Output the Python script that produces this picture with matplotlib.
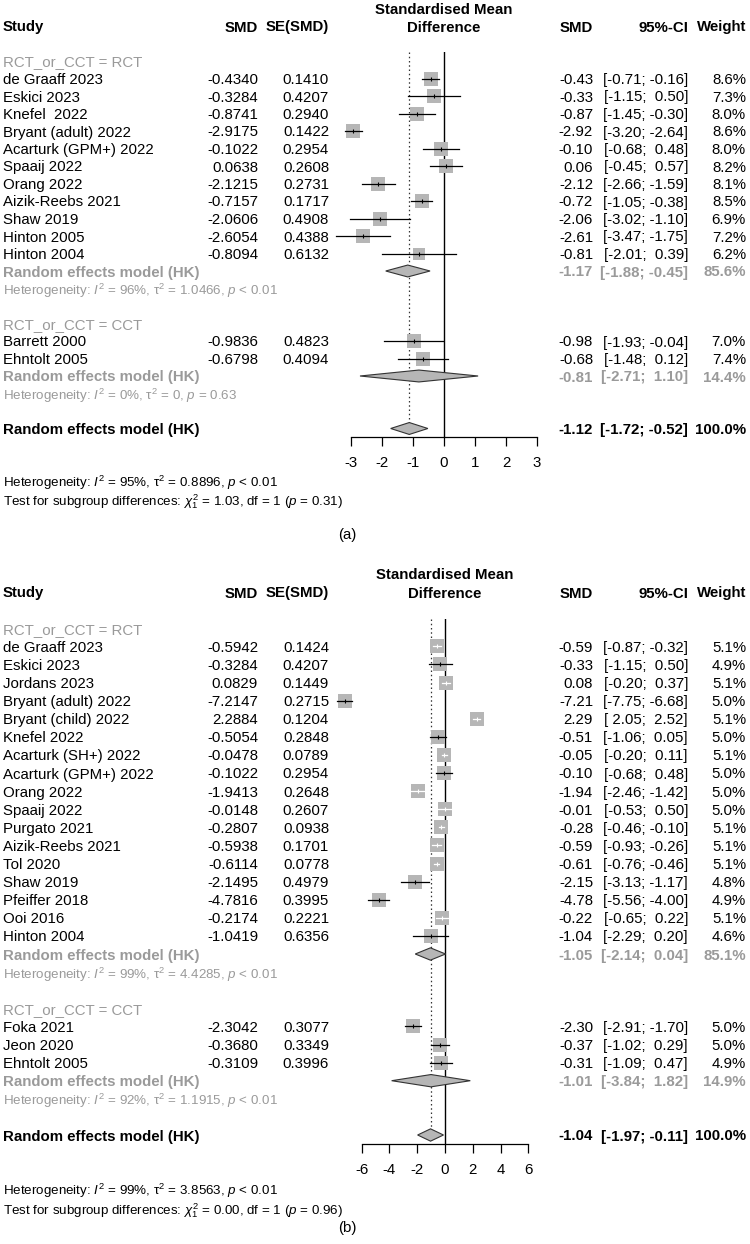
import numpy as np
import matplotlib
matplotlib.use("Agg")
import matplotlib.pyplot as plt
from matplotlib import transforms
from matplotlib.patches import Polygon

plt.rcParams['font.family'] = ['Liberation Sans', 'DejaVu Sans']
plt.rcParams['mathtext.fontset'] = 'custom'
plt.rcParams['mathtext.rm'] = 'Liberation Sans'
plt.rcParams['mathtext.it'] = 'Liberation Sans:italic'
plt.rcParams['mathtext.bf'] = 'Liberation Sans:bold'

# ---------------- panel (a) data ----------------
a_rct_study = ["de Graaff 2023", "Eskici 2023", "Knefel  2022", "Bryant (adult) 2022",
               "Acarturk (GPM+) 2022", "Spaaij 2022", "Orang 2022", "Aizik-Reebs 2021",
               "Shaw 2019", "Hinton 2005", "Hinton 2004"]
a_rct_smd = [-0.4340, -0.3284, -0.8741, -2.9175, -0.1022, 0.0638, -2.1215, -0.7157,
             -2.0606, -2.6054, -0.8094]
a_rct_se = [0.1410, 0.4207, 0.2940, 0.1422, 0.2954, 0.2608, 0.2731, 0.1717,
            0.4908, 0.4388, 0.6132]
a_rct_lo = [-0.71, -1.15, -1.45, -3.20, -0.68, -0.45, -2.66, -1.05, -3.02, -3.47, -2.01]
a_rct_hi = [-0.16, 0.50, -0.30, -2.64, 0.48, 0.57, -1.59, -0.38, -1.10, -1.75, 0.39]
a_rct_w = [8.6, 7.3, 8.0, 8.6, 8.0, 8.2, 8.1, 8.5, 6.9, 7.2, 6.2]
a_rct_re = [-1.17, -1.88, -0.45, 85.6]
a_rct_het = ["96%", "1.0466", "< 0.01"]

a_cct_study = ["Barrett 2000", "Ehntolt 2005"]
a_cct_smd = [-0.9836, -0.6798]
a_cct_se = [0.4823, 0.4094]
a_cct_lo = [-1.93, -1.48]
a_cct_hi = [-0.04, 0.12]
a_cct_w = [7.0, 7.4]
a_cct_re = [-0.81, -2.71, 1.10, 14.4]
a_cct_het = ["0%", "0", "= 0.63"]

a_all_re = [-1.12, -1.72, -0.52, 100.0]
a_all_het = ["95%", "0.8896", "< 0.01"]
a_test = ["1.03", "1", "0.31"]
a_ticks = [-3, -2, -1, 0, 1, 2, 3]

# ---------------- panel (b) data ----------------
b_rct_study = ["de Graaff 2023", "Eskici 2023", "Jordans 2023", "Bryant (adult) 2022",
               "Bryant (child) 2022", "Knefel 2022", "Acarturk (SH+) 2022",
               "Acarturk (GPM+) 2022", "Orang 2022", "Spaaij 2022", "Purgato 2021",
               "Aizik-Reebs 2021", "Tol 2020", "Shaw 2019", "Pfeiffer 2018", "Ooi 2016",
               "Hinton 2004"]
b_rct_smd = [-0.5942, -0.3284, 0.0829, -7.2147, 2.2884, -0.5054, -0.0478, -0.1022,
             -1.9413, -0.0148, -0.2807, -0.5938, -0.6114, -2.1495, -4.7816, -0.2174,
             -1.0419]
b_rct_se = [0.1424, 0.4207, 0.1449, 0.2715, 0.1204, 0.2848, 0.0789, 0.2954, 0.2648,
            0.2607, 0.0938, 0.1701, 0.0778, 0.4979, 0.3995, 0.2221, 0.6356]
b_rct_lo = [-0.87, -1.15, -0.20, -7.75, 2.05, -1.06, -0.20, -0.68, -2.46, -0.53, -0.46,
            -0.93, -0.76, -3.13, -5.56, -0.65, -2.29]
b_rct_hi = [-0.32, 0.50, 0.37, -6.68, 2.52, 0.05, 0.11, 0.48, -1.42, 0.50, -0.10,
            -0.26, -0.46, -1.17, -4.00, 0.22, 0.20]
b_rct_w = [5.1, 4.9, 5.1, 5.0, 5.1, 5.0, 5.1, 5.0, 5.0, 5.0, 5.1, 5.1, 5.1, 4.8, 4.9,
           5.1, 4.6]
b_rct_re = [-1.05, -2.14, 0.04, 85.1]
b_rct_het = ["99%", "4.4285", "< 0.01"]

b_cct_study = ["Foka 2021", "Jeon 2020", "Ehntolt 2005"]
b_cct_smd = [-2.3042, -0.3680, -0.3109]
b_cct_se = [0.3077, 0.3349, 0.3996]
b_cct_lo = [-2.91, -1.02, -1.09]
b_cct_hi = [-1.70, 0.29, 0.47]
b_cct_w = [5.0, 5.0, 4.9]
b_cct_re = [-1.01, -3.84, 1.82, 14.9]
b_cct_het = ["92%", "1.1915", "< 0.01"]

b_all_re = [-1.04, -1.97, -0.11, 100.0]
b_all_het = ["99%", "3.8563", "< 0.01"]
b_test = ["0.00", "1", "0.96"]
b_ticks = [-6, -4, -2, 0, 2, 4, 6]

W, H = 750, 1244
FS = 10.8
FS_HET = 9.6
GREY_TXT = '#9a9a9a'
SQ_COL = '#b6b6b6'

fig = plt.figure(figsize=(W / 100, H / 100), dpi=100)


def ci_str(lo, hi):
    return "[" + f"{lo:5.2f}" + "; " + f"{hi:5.2f}" + "]"


def het_str(het):
    i2, tau2, p = het
    return ("Heterogeneity: $I^2$ = " + i2 + r", $\mathrm{\tau}^2$ = " + tau2
            + ", $p$ " + p)


def draw_panel(groups, overall, all_het, test, ticks, y0, unit, zero_px, ppu, label, label_y):
    # rows: header 0, blank 1, then per group: subgroup title, studies, RE, het, blank
    r_all = 2 + sum(len(g[0]) + 4 for g in groups)
    r_top, r_bot = 1.5, r_all + 0.48
    top_px = y0 + unit * r_top
    bot_px = y0 + unit * r_bot
    ax = fig.add_axes([320 / W, 1 - bot_px / H, 250 / W, (bot_px - top_px) / H])
    ax.set_xlim((320 - zero_px) / ppu, (570 - zero_px) / ppu)
    ax.set_ylim(r_bot, r_top)
    ax.patch.set_alpha(0)
    for s in ['left', 'right', 'top']:
        ax.spines[s].set_visible(False)
    ax.spines['bottom'].set_bounds(ticks[0], ticks[-1])
    ax.spines['bottom'].set_linewidth(0.9)
    ax.set_yticks([])
    ax.set_xticks(ticks)
    ax.set_xticklabels([str(t) for t in ticks], fontsize=FS)
    ax.tick_params(axis='x', length=6.5, width=0.9, pad=7.5)

    tr = transforms.blended_transform_factory(fig.transFigure, ax.transData)

    def txt(xpx, r, s, ha='right', **kw):
        ax.text(xpx / W, r, s, transform=tr, ha=ha, va='center_baseline',
                fontsize=kw.pop('fontsize', FS), **kw)

    # headers
    txt(3, 0, "Study", ha='left', fontweight='bold')
    txt(258, 0, "SMD", fontweight='bold')
    txt(329, 0, "SE(SMD)", fontweight='bold')
    ax.text(0, -1, "Standardised Mean", ha='center', va='center_baseline', fontsize=FS,
            fontweight='bold', clip_on=False)
    ax.text(0, 0, "Difference", ha='center', va='center_baseline', fontsize=FS,
            fontweight='bold', clip_on=False)
    txt(593, 0, "SMD", fontweight='bold')
    txt(688, 0, "95%-CI", fontweight='bold')
    txt(746, 0, "Weight", fontweight='bold')

    ax.axvline(0, color='black', lw=1.0)
    ax.plot([overall[0], overall[0]], [r_top, r_all - 0.33], color='#333333', lw=0.9,
            linestyle=(0, (1.2, 2.2)), clip_on=False)

    wmax = max(max(g[5]) for g in groups)
    r = 2
    for study, smd, se, lo, hi, w, name, re, het in groups:
        txt(3, r, "RCT_or_CCT = " + name, ha='left', color=GREY_TXT)
        r += 1
        for i in range(len(study)):
            est = round(smd[i], 2)
            side_px = 14.8 * np.sqrt(w[i] / wmax)
            inside = (hi[i] - lo[i]) / 2 * ppu <= side_px / 2
            ax.scatter([est], [r], s=(side_px * 0.72) ** 2, marker='s', color=SQ_COL,
                       linewidths=0, zorder=3, clip_on=False)
            lc = 'white' if inside else 'black'
            ax.plot([lo[i], hi[i]], [r, r], color=lc, lw=0.9, zorder=4, clip_on=False)
            ax.plot([est], [r], marker='|', ms=3.5, mew=0.8, color=lc, zorder=4, clip_on=False)
            txt(3, r, study[i], ha='left')
            txt(258, r, f"{smd[i]:.4f}")
            txt(329, r, f"{se[i]:.4f}")
            txt(593, r, f"{est:.2f}")
            txt(688, r, ci_str(lo[i], hi[i]))
            txt(746, r, f"{w[i]:.1f}%")
            r += 1
        ax.add_patch(Polygon([(re[1], r), (re[0], r - 0.34), (re[2], r), (re[0], r + 0.34)],
                             closed=True, facecolor=SQ_COL, edgecolor='#333333', lw=0.8,
                             zorder=3, clip_on=False))
        txt(3, r, "Random effects model (HK)", ha='left', color=GREY_TXT, fontweight='bold')
        txt(593, r, f"{re[0]:.2f}", color=GREY_TXT, fontweight='bold')
        txt(688, r, ci_str(re[1], re[2]), color=GREY_TXT, fontweight='bold')
        txt(746, r, f"{re[3]:.1f}%", color=GREY_TXT, fontweight='bold')
        r += 1
        txt(3, r, het_str(het), ha='left', color=GREY_TXT, fontsize=FS_HET)
        r += 2

    ax.add_patch(Polygon([(overall[1], r), (overall[0], r - 0.34), (overall[2], r),
                          (overall[0], r + 0.34)], closed=True, facecolor=SQ_COL,
                         edgecolor='#333333', lw=0.8, zorder=3, clip_on=False))
    txt(3, r, "Random effects model (HK)", ha='left', fontweight='bold')
    txt(593, r, f"{overall[0]:.2f}", fontweight='bold')
    txt(688, r, ci_str(overall[1], overall[2]), fontweight='bold')
    txt(746, r, f"{overall[3]:.1f}%", fontweight='bold')
    txt(3, r + 2.97, het_str(all_het), ha='left', fontsize=FS_HET)
    txt(3, r + 4.03, r"Test for subgroup differences: $\chi^2_{" + test[1] + "}$ = " + test[0]
        + ", df = " + test[1] + " ($p$ = " + test[2] + ")", ha='left', fontsize=FS_HET)
    fig.text(347 / W, 1 - label_y / H, label, ha='center', va='center', fontsize=FS)


a_groups = [
    (a_rct_study, a_rct_smd, a_rct_se, a_rct_lo, a_rct_hi, a_rct_w, "RCT", a_rct_re, a_rct_het),
    (a_cct_study, a_cct_smd, a_cct_se, a_cct_lo, a_cct_hi, a_cct_w, "CCT", a_cct_re, a_cct_het),
]
b_groups = [
    (b_rct_study, b_rct_smd, b_rct_se, b_rct_lo, b_rct_hi, b_rct_w, "RCT", b_rct_re, b_rct_het),
    (b_cct_study, b_cct_smd, b_cct_se, b_cct_lo, b_cct_hi, b_cct_w, "CCT", b_cct_re, b_cct_het),
]

draw_panel(a_groups, a_all_re, a_all_het, a_test, a_ticks, 26, 17.5, 444, 31.0, "(a)", 535)
draw_panel(b_groups, b_all_re, b_all_het, b_test, b_ticks, 592, 18.1, 445, 13.9, "(b)", 1228)

fig.savefig("out.png", dpi=100)
